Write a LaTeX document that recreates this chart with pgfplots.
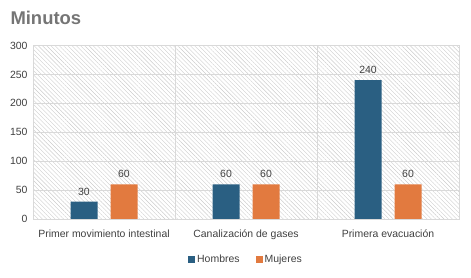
\documentclass[border=0pt]{standalone}
\usepackage{pgfplots}
\pgfplotsset{compat=1.18}
\usepackage{fontspec}
\setmainfont{Liberation Sans}
\usetikzlibrary{patterns.meta}
\definecolor{hom}{HTML}{2A5F82}
\definecolor{muj}{HTML}{E27A3F}
\definecolor{txt}{HTML}{404040}
\definecolor{gridc}{HTML}{D9D9D9}
\definecolor{ttl}{HTML}{757575}
\begin{document}
\begin{tikzpicture}
\useasboundingbox (0,0) rectangle (471bp,278bp);
\node[anchor=west, text=ttl, font=\fontsize{18.5}{20}\selectfont\bfseries] at (7bp,260bp) {Minutos};
\begin{axis}[
  at={(33bp,59bp)}, anchor=south west,
  scale only axis, width=426bp, height=173.5bp,
  xmin=-0.5, xmax=2.5, ymin=0, ymax=300,
  ytick={0,50,...,300},
  xtick={0,1,2},
  xticklabels={Primer movimiento intestinal, Canalización de gases, Primera evacuación},
  minor xtick={0.5,1.5},
  xminorgrids, ymajorgrids,
  minor grid style={gridc, line width=0.8pt},
  major grid style={gridc, line width=0.8pt},
  axis line style={gridc, line width=0.8pt},
  tick style={draw=none},
  axis background/.style={pattern={Lines[angle=-45, distance=3pt, line width=0.4pt]}, pattern color=gray!40},
  tick label style={text=txt, font=\fontsize{10.5}{12}\selectfont},
  /pgf/number format/assume math mode=true,
  ybar=13bp, bar width=27bp,
  nodes near coords,
  every node near coord/.append style={text=txt, font=\fontsize{10.5}{12}\selectfont, yshift=3bp},
  legend style={at={(0.5,-0.236)}, anchor=center, draw=none, fill=none, legend columns=2,
    font=\fontsize{10.5}{12}\selectfont, text=txt, /tikz/every even column/.append style={column sep=14bp}},
  legend image code/.code={\fill[#1] (0bp,-3.5bp) rectangle (7bp,3.5bp);},
  xticklabel style={yshift=-3bp},
  yticklabel style={xshift=-2bp},
]
\addplot[fill=hom, draw=none] coordinates {(0,30) (1,60) (2,240)};
\addplot[fill=muj, draw=none] coordinates {(0,60) (1,60) (2,60)};
\legend{Hombres, Mujeres}
\end{axis}
\end{tikzpicture}
\end{document}
